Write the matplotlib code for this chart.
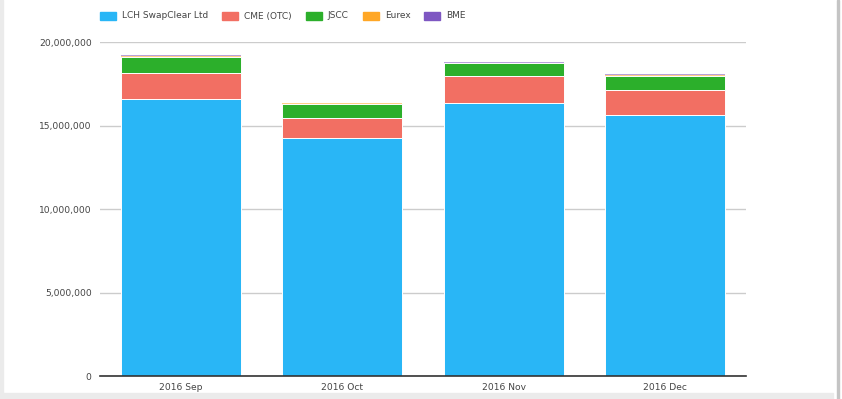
import matplotlib
matplotlib.use("Agg")
import matplotlib.pyplot as plt
from matplotlib.patches import Rectangle
from matplotlib.ticker import FuncFormatter
import numpy as np

# data
months = ["2016 Sep", "2016 Oct", "2016 Nov", "2016 Dec"]
lch = [16630000, 14290000, 16390000, 15670000]
cme = [1530000, 1200000, 1610000, 1500000]
jscc = [960000, 840000, 760000, 830000]
eurex = [40000, 20000, 30000, 40000]
bme = [60000, 40000, 50000, 60000]

series = [
    ("LCH SwapClear Ltd", lch, "#29b6f6"),
    ("CME (OTC)", cme, "#f26f63"),
    ("JSCC", jscc, "#2caf2b"),
    ("Eurex", eurex, "#ffa726"),
    ("BME", bme, "#7e57c2"),
]

fig = plt.figure(figsize=(8.42, 3.99), dpi=100)
ax = fig.add_axes([100 / 842, 1 - 376.3 / 399, 646 / 842, (376.3 - 42.3) / 399])

x = np.arange(len(months))
bottom = np.zeros(len(months))
for i, (name, vals, col) in enumerate(series):
    # the tiny top segments would vanish under a white edge
    lw = 0.7 if i < 3 else 0
    ax.bar(x, vals, width=0.743, bottom=bottom, color=col, edgecolor="white",
           linewidth=lw, label=name, zorder=3, alpha=1 if i < 3 else 0.55)
    bottom += np.array(vals)

ax.set_xlim(-0.5, 3.5)
ax.set_ylim(0, 20000000)
ax.set_yticks([0, 5000000, 10000000, 15000000, 20000000])
ax.yaxis.set_major_formatter(FuncFormatter(lambda v, p: f"{int(v):,}"))
ax.set_xticks(x)
ax.set_xticklabels(months)
ax.tick_params(axis="both", length=0, labelsize=6.6, colors="#444444")
ax.tick_params(axis="y", pad=6)
ax.tick_params(axis="x", pad=5)
ax.grid(axis="y", color="#cccccc", linewidth=1, zorder=0)
for s in ["top", "right", "left"]:
    ax.spines[s].set_visible(False)
ax.spines["bottom"].set_color("#333333")
ax.spines["bottom"].set_linewidth(1.2)
ax.spines["bottom"].set_zorder(4)

# legend row at the top
lx = 100
for name, vals, col in series:
    fig.patches.append(Rectangle((lx / 842, 1 - 20 / 399), 16 / 842, 8 / 399,
                                 transform=fig.transFigure, color=col))
    t = fig.text((lx + 22) / 842, 1 - 16 / 399, name, fontsize=6.5, color="#444444",
                 va="center", ha="left")
    fig.canvas.draw()
    w = t.get_window_extent().width
    lx = lx + 22 + w + 14

# frame bits of the page around the chart
fig.patches.append(Rectangle((0, 0), 3 / 842, 1, transform=fig.transFigure,
                             color="#ebebeb"))
fig.patches.append(Rectangle((0, 0), 833 / 842, 6 / 399, transform=fig.transFigure,
                             color="#ebebeb"))
fig.patches.append(Rectangle((837 / 842, 0), 1.5 / 842, 1, transform=fig.transFigure,
                             color="#c4c4c4"))

fig.savefig("out.png", dpi=100)
